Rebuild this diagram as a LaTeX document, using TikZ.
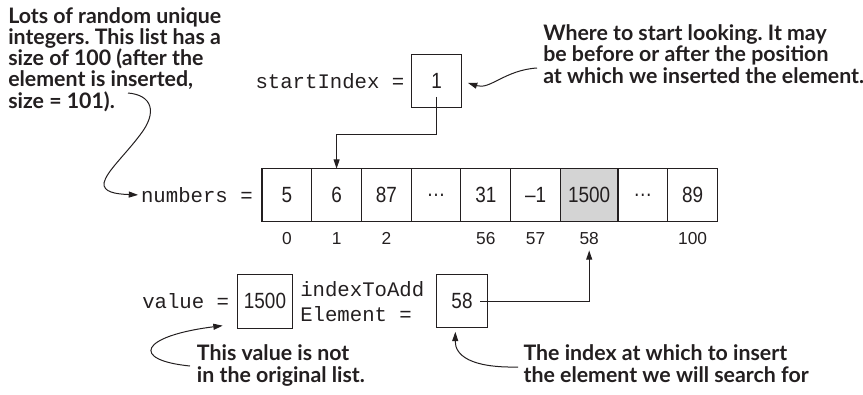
\documentclass[tikz,border=0pt]{standalone}
\usepackage{fontspec}
\setmonofont{Liberation Mono}
\newfontfamily\notefont{Lato}
\newfontfamily\numfont[FakeStretch=0.86]{Liberation Sans}
\newfontfamily\idxfont{Liberation Sans}
\usetikzlibrary{positioning,arrows.meta}
\definecolor{ink}{HTML}{231F20}
\definecolor{cellgray}{gray}{0.83}
\frenchspacing
\tikzset{
  box/.style={draw=ink, line width=0.8pt, inner sep=0pt, outer sep=0pt,
    minimum width=37.3pt, minimum height=39.5pt, text=ink,
    font=\numfont\fontsize{16.5}{18}\selectfont},
  code/.style={inner sep=0pt, text=ink, font=\ttfamily\fontsize{15.5}{18.75}\selectfont},
  idx/.style={inner sep=0pt, text=ink, font=\idxfont\fontsize{13}{15}\selectfont},
  note/.style={inner sep=0pt, align=left, text=ink,
    font=\notefont\bfseries\fontsize{16}{15.8}\selectfont},
  link/.style={draw=ink, line width=0.75pt, -{Triangle[length=7pt,width=4.5pt]}},
}
\begin{document}
\begin{tikzpicture}[x=0.75pt, y=-0.75pt]
  \useasboundingbox (0,0) rectangle (863,394);
  % the list and its positions
  \coordinate (c0) at (262,195);
  \foreach \v/\n/\w/\f [count=\i] in {5/0/37.3/white, 6/1/37.3/white, 87/2/37.3/white,
      \dots//37.3/white, 31/56/37.3/white, \textendash1/57/37.3/white,
      1500/58/43.2/cellgray, \dots//37.3/white, 89/100/37.3/white} {
    \pgfmathtruncatemacro\j{\i-1}
    \node[box, minimum width=\w pt, fill=\f, right=0pt of c\j] (c\i) {\v};
    \node[idx, below=8.2pt of c\i] (n\i) {\n};
  }
  \node[code, left=6.8pt of c1] (numlbl) {numbers =};

  % where the search starts
  \node[box] (sbox) at (436.7,80.8) {1};
  \node[code, left=5.4pt of sbox] (slbl) {startIndex =};
  \draw[link] ([yshift=-12pt]sbox.center) -- ++(0,38) -| (c2.north);

  % the value and where it goes
  \node[box, minimum width=41.5pt, minimum height=40.5pt] (vbox) at (265,301.3) {1500};
  \node[code, left=6pt of vbox] (vlbl) {value =};
  \node[code, align=left, right=5.5pt of vbox] (ilbl) {indexToAdd\\Element =};
  \node[box, minimum width=38pt, minimum height=40.2pt] (ibox) at (462,301) {58};
  \draw[link, shorten >=4pt] ([xshift=13.5pt]ibox.center) -| (n7.south);

  % callouts (anchored on their last line)
  \node[note, anchor=base west] (lots) at (8,108) {Lots of random unique\\integers. This list has a\\size of 100 (after the\\element is inserted,\\size = 101).};
  \node[note, anchor=base west] (where) at (543,83) {Where to start looking. It may\\be before or after the position\\at which we inserted the element.};
  \node[note, anchor=base west] (notin) at (196.7,382) {This value is not\\in the original list.};
  \node[note, anchor=base west] (insert) at (523.3,382) {The index at which to insert\\the element we will search for};

  \coordinate (lotsend) at (128,93);
  \coordinate (whereend) at (537,68);
  \coordinate (notinend) at (190,366);
  \coordinate (insertend) at (518,367);
  \draw[link, shorten >=2pt] (lotsend) .. controls (152,95) and (158,112) .. (140,135)
    .. controls (125,155) and (106,172) .. (104,183)
    .. controls (103,192) and (115,194) .. (numlbl.west);
  \draw[link, shorten >=5pt] (whereend) .. controls (505,70) and (490,90) .. (sbox.east);
  \draw[link] (notinend) .. controls (130,360) and (140,336) .. ([xshift=-11pt,yshift=2pt]vbox.south west);
  \draw[link] (insertend) .. controls (470,368) and (455,355) .. ([xshift=-5pt,yshift=-3pt]ibox.south);
\end{tikzpicture}
\end{document}
